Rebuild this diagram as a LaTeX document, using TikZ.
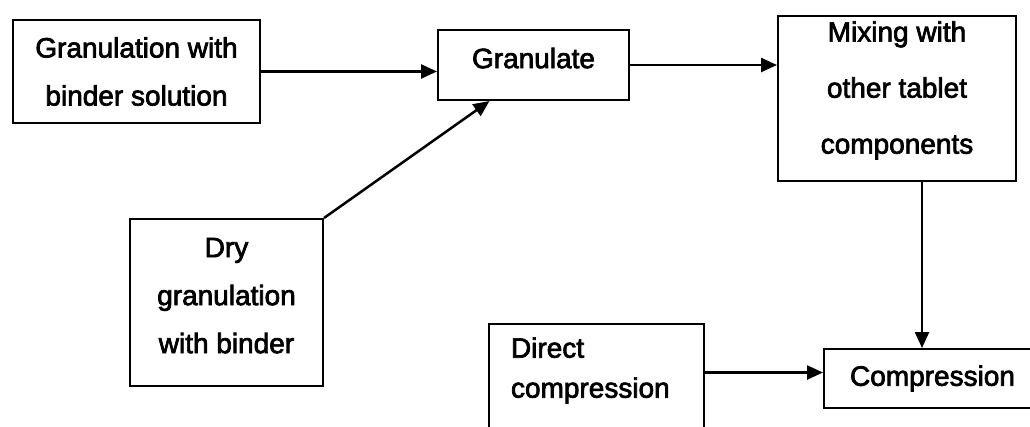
\documentclass[tikz,border=0pt]{standalone}
\usepackage{fontspec}
\newfontfamily\scanfont{Liberation Sans}[FakeBold=2.5]
\usetikzlibrary{arrows.meta}
\begin{document}
\begin{tikzpicture}[x=1pt,y=-1pt,
  box/.style={draw, line width=2pt, inner sep=0pt, anchor=north west,
    font=\scanfont\fontsize{28}{48}\selectfont, align=center},
  arr/.style={line width=2.5pt, -{Triangle[length=16pt,width=14pt]}}]
\fill[white] (0,0) rectangle (1030,426);
\useasboundingbox (0,0) rectangle (1030,426);
\node[box, minimum width=247pt, minimum height=103pt] (b1) at (12,19) {Granulation with\\binder solution};
\node[box, minimum width=191pt, minimum height=70pt, text depth=14pt] (gran) at (437,29) {Granulate};
\node[box, minimum width=238pt, minimum height=165pt, font=\scanfont\fontsize{28}{56}\selectfont, text depth=22pt] (mix) at (777,15) {Mixing with\\other tablet\\components};
\node[box, minimum width=193pt, minimum height=167pt, text depth=14pt] (dry) at (129,218) {Dry\\granulation\\with binder};
\node[box, minimum width=215pt, minimum height=117pt, inner xsep=22pt, text width=171pt, align=left, font=\scanfont\fontsize{28}{40}\selectfont, text depth=70pt] (dir) at (488,323) {Direct\\compression};
\node[box, minimum width=217pt, minimum height=59pt] (comp) at (823,348) {Compression};
\draw[arr] (b1.east) -- (b1.east -| gran.west);
\draw[arr] (gran.east) -- (gran.east -| mix.west);
\draw[arr] ([xshift=25pt]mix.south) -- ([xshift=25pt]mix.south |- comp.north);
\draw[arr] ([yshift=6pt]comp.west -| dir.east) -- ([yshift=6pt]comp.west);
\draw[arr] (dry.north east) -- ([xshift=-44pt]gran.south);
\end{tikzpicture}
\end{document}
